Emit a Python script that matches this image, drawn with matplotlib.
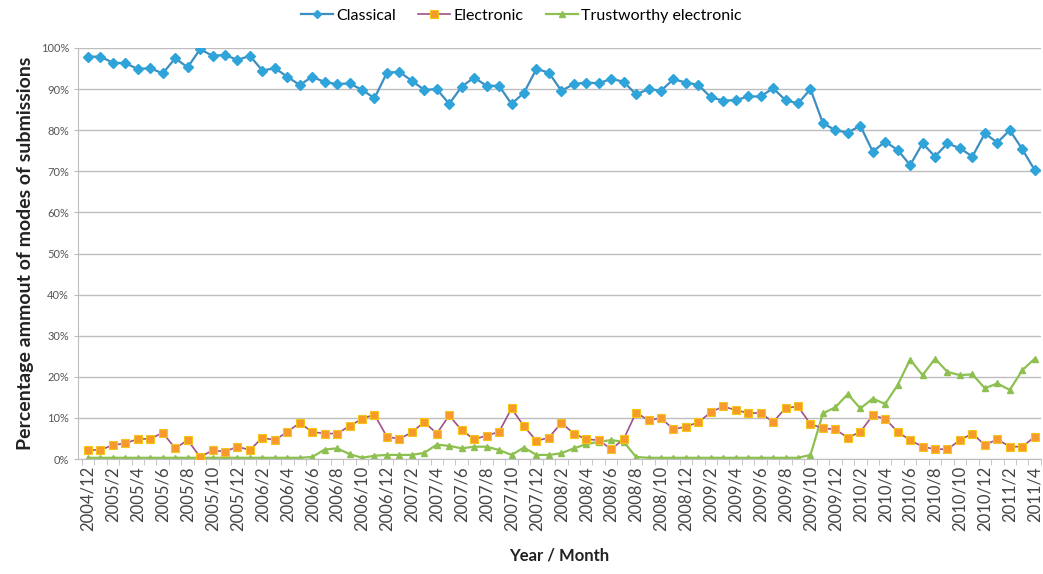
import numpy as np
import matplotlib
matplotlib.use("Agg")
import matplotlib.pyplot as plt
from matplotlib.ticker import FuncFormatter

plt.rcParams['font.family'] = ['Lato', 'DejaVu Sans']

# months 2004/12 .. 2011/4
months = []
y, m = 2004, 12
while (y, m) <= (2011, 4):
    months.append(f"{y}/{m}")
    m += 1
    if m > 12:
        y, m = y + 1, 1

classical = [97.9, 97.9, 96.4, 96.3, 94.9, 95.1, 93.8, 97.5, 95.3, 99.7,
             98.1, 98.3, 97.1, 98.1, 94.5, 95.1, 93.0, 91.0, 93.0, 91.7,
             91.2, 91.4, 89.8, 87.8, 94.0, 94.2, 92.0, 89.8, 90.0, 86.4,
             90.6, 92.8, 90.8, 90.8, 86.4, 89.1, 94.9, 94.0, 89.6, 91.2,
             91.6, 91.4, 92.5, 91.8, 88.7, 90.0, 89.6, 92.4, 91.6, 91.0,
             88.0, 87.2, 87.3, 88.2, 88.2, 90.2, 87.3, 86.5, 90.0, 81.7,
             80.0, 79.4, 81.1, 74.8, 77.2, 75.2, 71.5, 76.8, 73.6, 76.8,
             75.6, 73.6, 79.2, 77.0, 80.0, 75.4, 70.3]

electronic = [2.2, 2.2, 3.4, 3.8, 4.9, 4.9, 6.4, 2.6, 4.6, 0.5,
              2.1, 1.8, 3.0, 2.2, 5.2, 4.6, 6.6, 8.8, 6.6, 6.2,
              6.2, 8.0, 9.8, 10.8, 5.4, 4.9, 6.5, 9.0, 6.2, 10.6,
              7.0, 4.8, 5.7, 6.6, 12.3, 8.0, 4.4, 5.2, 8.8, 6.2,
              4.8, 4.6, 2.4, 4.8, 11.3, 9.4, 10.0, 7.2, 7.9, 8.9,
              11.4, 12.8, 11.9, 11.2, 11.2, 9.0, 12.4, 12.8, 8.5, 7.5,
              7.2, 5.2, 6.6, 10.6, 9.8, 6.6, 4.6, 3.0, 2.4, 2.4,
              4.6, 6.2, 3.4, 4.8, 3.0, 3.0, 5.4]

trustworthy = [0.3, 0.3, 0.3, 0.3, 0.3, 0.3, 0.3, 0.3, 0.3, 0.3,
               0.3, 0.3, 0.3, 0.3, 0.3, 0.3, 0.3, 0.3, 0.5, 2.3,
               2.6, 1.2, 0.3, 0.8, 1.0, 1.0, 1.0, 1.5, 3.5, 3.2,
               2.6, 3.0, 3.0, 2.2, 1.0, 2.8, 1.0, 1.0, 1.4, 2.6,
               3.6, 4.2, 4.6, 4.2, 0.5, 0.3, 0.3, 0.3, 0.3, 0.3,
               0.3, 0.3, 0.3, 0.3, 0.3, 0.3, 0.3, 0.3, 1.0, 11.1,
               12.6, 15.8, 12.3, 14.7, 13.4, 18.0, 24.2, 20.4, 24.4, 21.2,
               20.4, 20.6, 17.2, 18.4, 16.8, 21.6, 24.4]

x = np.arange(len(months))

fig = plt.figure(figsize=(10.43, 5.74), dpi=100)
ax = fig.add_axes([0.0748, 0.2003, 0.9232, 0.7161])

ax.plot(x, np.array(classical) / 100, color='#3E8FBF', lw=1.6, marker='D', ms=5,
        mfc='#2FA4DB', mec='#2FA4DB', label='Classical', zorder=3)
ax.plot(x, np.array(electronic) / 100, color='#A0508A', lw=1.2, marker='s', ms=6,
        mfc='#F79A2E', mec='#F5C518', mew=0.8, label='Electronic', zorder=3)
ax.plot(x, np.array(trustworthy) / 100, color='#8DC050', lw=1.6, marker='^', ms=5,
        mfc='#8DC050', mec='#8DC050', label='Trustworthy electronic', zorder=2)

ax.set_ylim(0, 1)
ax.set_xlim(-0.8, 76.3)
ax.set_yticks(np.arange(0, 1.01, 0.1))
ax.yaxis.set_major_formatter(FuncFormatter(lambda v, p: f"{int(round(v * 100))}%"))
ax.grid(axis='y', color='#BDBDBD', lw=1.0)
ax.set_axisbelow(True)

ax.set_xticks(x[::2])
ax.set_xticklabels(months[::2], rotation=90, fontsize=12, color='#444444')
ax.set_xticks(np.arange(-0.5, 76.6, 1), minor=True)
ax.tick_params(axis='x', which='major', length=0, pad=5)
ax.tick_params(axis='x', which='minor', length=4, color='#BDBDBD')
ax.tick_params(axis='y', labelsize=8, labelcolor='#555555', length=3, color='#BDBDBD')

for s in ['top', 'right']:
    ax.spines[s].set_visible(False)
ax.spines['left'].set_color('#BDBDBD')
ax.spines['bottom'].set_color('#BDBDBD')

ax.set_ylabel('Percentage ammout of modes of submissions', fontsize=14, fontweight='bold',
              color='#222222', labelpad=5)
ax.set_xlabel('Year / Month', fontsize=12, fontweight='bold', color='#222222', labelpad=12)

fig.legend(loc='upper center', bbox_to_anchor=(0.5, 1.01), ncol=3, frameon=False,
           fontsize=11.5, handlelength=2.0, columnspacing=1.4, handletextpad=0.2,
           markerscale=0.9)

fig.savefig('out.png', dpi=100)
